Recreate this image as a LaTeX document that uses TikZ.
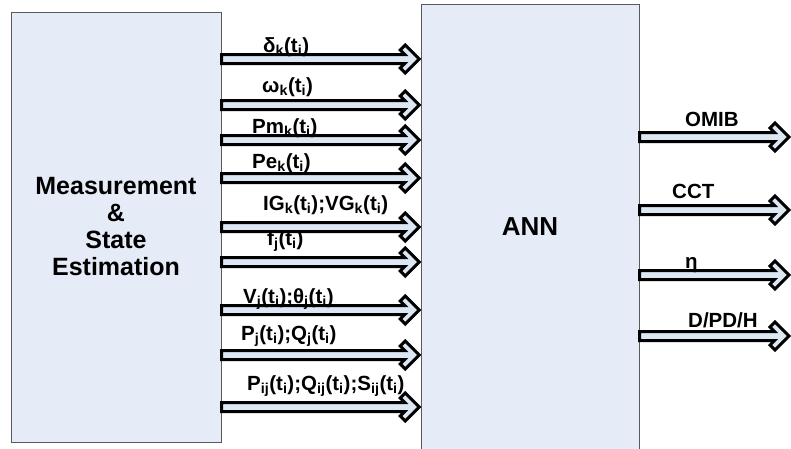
\documentclass[tikz,border=0pt]{standalone}
\usepackage{fontspec}
\setmainfont{Liberation Sans}
\usetikzlibrary{calc}
\definecolor{boxfill}{HTML}{E6ECF7}
\definecolor{arrfill}{HTML}{DDE6F3}
\definecolor{boxline}{HTML}{595959}
\newcommand{\mysub}[1]{\textsubscript{#1}}
\tikzset{
  blockbox/.style={draw=boxline, line width=1pt, fill=boxfill, inner sep=0pt, align=center,
    font=\fontsize{25}{27}\selectfont\bfseries},
  fat/.style={draw=black, line width=3pt, fill=arrfill, line join=miter,
    to path={let \p1=(\tikztostart), \p2=(\tikztotarget) in
      (\x1,\y1+4.5pt) -- (\x2-16.4pt,\y1+4.5pt) -- (\x2-20.95pt,\y1+9.05pt) -- (\x2-16pt,\y1+14pt)
      -- (\x2-2pt,\y1) -- (\x2-16pt,\y1-14pt) -- (\x2-20.95pt,\y1-9.05pt) -- (\x2-16.4pt,\y1-4.5pt)
      -- (\x1,\y1-4.5pt) -- cycle}},
  lbl/.style={anchor=base west, inner sep=0pt, font=\fontsize{20.5}{24}\selectfont\bfseries}
}
\begin{document}
\begin{tikzpicture}[x=1pt,y=-1pt]
\useasboundingbox (0,0) rectangle (791,448);
\node[blockbox, minimum width=210pt, minimum height=430pt] (ms) at (116,227)
  {Measurement\\\&\\State\\Estimation};
\node[blockbox, minimum width=217.3pt, minimum height=456pt] (ann) at (530.35,232) {};
\node[anchor=base, inner sep=0pt, font=\fontsize{26}{30}\selectfont\bfseries] (annlbl) at (530,235) {ANN};
\coordinate (o1) at (791,137);
\coordinate (o2) at (791,210);
\coordinate (o3) at (791,275);
\coordinate (o4) at (791,336);
% inputs
\draw[fat] (ms.east |- 0,59) to (ann.west |- 0,59);
\draw[fat] (ms.east |- 0,105) to (ann.west |- 0,105);
\draw[fat] (ms.east |- 0,140) to (ann.west |- 0,140);
\draw[fat] (ms.east |- 0,178) to (ann.west |- 0,178);
\draw[fat] (ms.east |- 0,227) to (ann.west |- 0,227);
\draw[fat] (ms.east |- 0,262) to (ann.west |- 0,262);
\draw[fat] (ms.east |- 0,310) to (ann.west |- 0,310);
\draw[fat] (ms.east |- 0,355) to (ann.west |- 0,355);
\draw[fat] (ms.east |- 0,407) to (ann.west |- 0,407);
% outputs
\draw[fat] (ann.east |- o1) to (o1);
\draw[fat] (ann.east |- o2) to (o2);
\draw[fat] (ann.east |- o3) to (o3);
\draw[fat] (ann.east |- o4) to (o4);
% input labels
\node[lbl] (l1) at (263,52) {δ\mysub{k}(t\mysub{i})};
\node[lbl] (l2) at (262,92) {ω\mysub{k}(t\mysub{i})};
\node[lbl] (l3) at (252,133) {Pm\mysub{k}(t\mysub{i})};
\node[lbl] (l4) at (252,168) {Pe\mysub{k}(t\mysub{i})};
\node[lbl] (l5) at (263,210) {IG\mysub{k}(t\mysub{i});VG\mysub{k}(t\mysub{i})};
\node[lbl] (l6) at (267,245) {f\mysub{j}(t\mysub{i})};
\node[lbl] (l7) at (243,303) {V\mysub{j}(t\mysub{i});θ\mysub{j}(t\mysub{i})};
\node[lbl] (l8) at (241,340) {P\mysub{j}(t\mysub{i});Q\mysub{j}(t\mysub{i})};
\node[lbl] (l9) at (247,390) {P\mysub{ij}(t\mysub{i});Q\mysub{ij}(t\mysub{i});S\mysub{ij}(t\mysub{i})};
% output labels
\node[lbl] (r1) at (685,126) {OMIB};
\node[lbl] (r2) at (672,198) {CCT};
\node[lbl] (r3) at (685,268) {η};
\node[lbl] (r4) at (688,327) {D/PD/H};
\end{tikzpicture}
\end{document}
